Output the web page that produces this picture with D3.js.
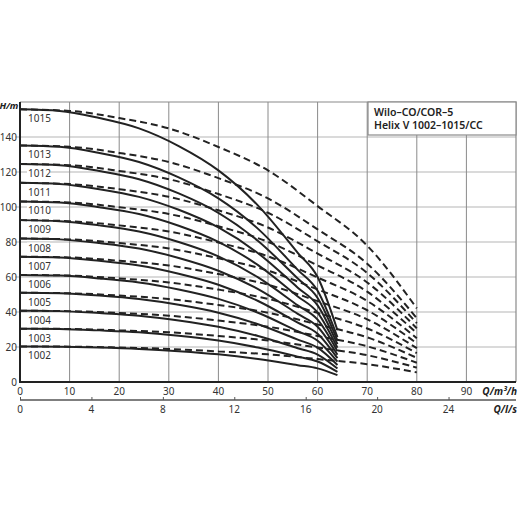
<!DOCTYPE html>
<html>
<head>
<meta charset="utf-8">
<script src="https://cdn.jsdelivr.net/npm/d3@7"></script>
<style>
  body { margin: 0; background: #fff; }
  svg { display: block; font-family: "Noto Sans", sans-serif; }
</style>
</head>
<body>
<div id="chart"></div>
<script>
// pump models and flows
var models = ["1002","1003","1004","1005","1006","1007","1008","1009","1010","1011","1012","1013","1015"];
var qSolid = [0, 8, 16, 24, 32, 40, 48, 56, 60, 64];
var qDash  = [0, 10, 20, 30, 40, 50, 60, 70, 80];

// head values (m), one row per model
var hSolid = [
  [20.3, 20.2, 19.7, 18.9, 17.6, 15.8, 13.1, 9.6, 7.8, 3.9],
  [30.5, 30.3, 29.5, 28.4, 26.4, 23.7, 19.7, 14.5, 11.7, 5.8],
  [40.7, 40.5, 39.4, 37.9, 35.2, 31.6, 26.3, 19.3, 15.7, 7.7],
  [51.0, 50.7, 49.4, 47.4, 44.1, 39.6, 33.0, 24.2, 19.6, 9.7],
  [61.2, 60.8, 59.2, 56.9, 52.9, 47.5, 39.6, 29.0, 23.6, 11.6],
  [71.6, 71.2, 69.3, 66.6, 61.9, 55.6, 46.3, 33.9, 27.6, 13.6],
  [82.0, 81.5, 79.4, 76.3, 70.9, 63.6, 53.1, 38.9, 31.6, 15.6],
  [92.5, 91.9, 89.5, 86.0, 80.0, 71.8, 59.8, 43.8, 35.6, 17.6],
  [103.2, 102.6, 99.9, 96.0, 89.3, 80.1, 66.8, 48.9, 39.7, 19.6],
  [113.8, 113.1, 110.2, 105.8, 98.4, 88.3, 73.6, 53.9, 43.8, 21.6],
  [124.6, 123.9, 120.6, 115.9, 107.8, 96.7, 80.6, 59.1, 48.0, 23.7],
  [135.2, 134.4, 130.9, 125.7, 116.9, 104.9, 87.5, 64.1, 52.1, 25.7],
  [155.8, 154.9, 150.8, 144.9, 134.8, 120.9, 100.8, 73.8, 60.0, 29.6]
];
var hDash = [
  [20.3, 20.2, 19.7, 18.9, 17.5, 15.8, 13.1, 10.2, 5.5],
  [30.5, 30.3, 29.5, 28.4, 26.3, 23.7, 19.7, 15.3, 8.2],
  [40.7, 40.5, 39.4, 37.9, 35.1, 31.6, 26.3, 20.4, 11.0],
  [51.0, 50.7, 49.4, 47.4, 44.0, 39.6, 32.9, 25.5, 13.8],
  [61.2, 60.8, 59.2, 56.9, 52.8, 47.5, 39.5, 30.6, 16.5],
  [71.6, 71.2, 69.3, 66.6, 61.7, 55.6, 46.2, 35.8, 19.3],
  [82.0, 81.5, 79.4, 76.3, 70.7, 63.6, 52.9, 41.0, 22.1],
  [92.5, 91.9, 89.5, 86.0, 79.7, 71.8, 59.7, 46.3, 25.0],
  [103.2, 102.6, 99.9, 96.0, 89.0, 80.1, 66.6, 51.6, 27.9],
  [113.8, 113.1, 110.2, 105.8, 98.1, 88.3, 73.4, 56.9, 30.7],
  [124.6, 123.9, 120.6, 115.9, 107.4, 96.7, 80.4, 62.3, 33.6],
  [135.2, 134.4, 130.9, 125.7, 116.5, 104.9, 87.2, 67.6, 36.5],
  [155.8, 154.9, 150.8, 144.9, 134.3, 120.9, 100.5, 77.9, 42.1]
];

var yTicks = [0, 20, 40, 60, 80, 100, 120, 140];
var xTicks = [0, 10, 20, 30, 40, 50, 60, 70, 80, 90];
var lsTicks = [0, 4, 8, 12, 16, 20, 24];
var legendLines = ["Wilo\u2013CO/COR\u20135", "Helix V 1002\u20131015/CC"];

var W = 518, H = 518;
var svg = d3.select("#chart")
  .append("svg")
  .attr("width", W)
  .attr("height", H);

var scaleX = d3.scaleLinear().domain([0, 100]).range([20, 516]);
var scaleY = d3.scaleLinear().domain([0, 160]).range([382, 102]);
// l/s axis: 1 l/s = 3.6 m3/h
var scaleLs = d3.scaleLinear().domain([0, 100 / 3.6]).range([20, 516]);

// grid
svg.append("g")
  .selectAll("line")
  .data(yTicks.slice(1))
  .enter()
  .append("line")
  .attr("x1", 15).attr("x2", scaleX(100))
  .attr("y1", function(d){ return scaleY(d); })
  .attr("y2", function(d){ return scaleY(d); })
  .style("stroke", "#b5b5b5")
  .style("stroke-width", 1.2);

svg.append("g")
  .selectAll("line")
  .data(xTicks.slice(1))
  .enter()
  .append("line")
  .attr("x1", function(d){ return scaleX(d); })
  .attr("x2", function(d){ return scaleX(d); })
  .attr("y1", scaleY(160)).attr("y2", scaleY(0))
  .style("stroke", "#8a8a8a")
  .style("stroke-width", 1);

// frame top / right
svg.append("path")
  .attr("d", "M" + scaleX(0) + "," + scaleY(160) + "H" + scaleX(100) + "V" + scaleY(0))
  .style("fill", "none")
  .style("stroke", "#8a8a8a")
  .style("stroke-width", 1.2);

// curves
var line = d3.line()
  .x(function(d){ return scaleX(d[0]); })
  .y(function(d){ return scaleY(d[1]); })
  .curve(d3.curveMonotoneX);

var dashData = hDash.map(function(row){ return row.map(function(h, i){ return [qDash[i], h]; }); });
var solidData = hSolid.map(function(row){ return row.map(function(h, i){ return [qSolid[i], h]; }); });

svg.append("g")
  .selectAll("path")
  .data(dashData)
  .enter()
  .append("path")
  .attr("d", line)
  .style("fill", "none")
  .style("stroke", "#222")
  .style("stroke-width", 2)
  .style("stroke-dasharray", "7,4");

svg.append("g")
  .selectAll("path")
  .data(solidData)
  .enter()
  .append("path")
  .attr("d", line)
  .style("fill", "none")
  .style("stroke", "#222")
  .style("stroke-width", 2);

// curve labels
var lab = svg.append("g")
  .selectAll("g")
  .data(models)
  .enter()
  .append("g")
  .attr("transform", function(d, i){ return "translate(28," + (scaleY(hSolid[i][0]) + 13) + ")"; });
lab.append("rect")
  .attr("x", -1).attr("y", -9).attr("width", 23).attr("height", 11)
  .style("fill", "#fff");
lab.append("text")
  .attr("font-size", "10px")
  .style("fill", "#333")
  .text(function(d){ return d; });

// axes
svg.append("line")
  .attr("x1", scaleX(0)).attr("x2", scaleX(0))
  .attr("y1", scaleY(160)).attr("y2", scaleY(0) + 1)
  .style("stroke", "#222").style("stroke-width", 2);
svg.append("line")
  .attr("x1", scaleX(0) - 1).attr("x2", scaleX(100))
  .attr("y1", scaleY(0)).attr("y2", scaleY(0))
  .style("stroke", "#222").style("stroke-width", 2);

svg.append("g")
  .selectAll("text")
  .data(yTicks)
  .enter()
  .append("text")
  .attr("x", 17)
  .attr("y", function(d){ return scaleY(d) + 3.5; })
  .attr("text-anchor", "end")
  .attr("font-size", "10px")
  .style("fill", "#333")
  .text(function(d){ return d; });

svg.append("text")
  .attr("x", 18).attr("y", 109)
  .attr("text-anchor", "end")
  .attr("font-size", "9.5px")
  .attr("font-weight", "bold")
  .attr("font-style", "italic")
  .attr("letter-spacing", "-0.3")
  .style("fill", "#222")
  .text("H/m");

svg.append("g")
  .selectAll("text")
  .data(xTicks)
  .enter()
  .append("text")
  .attr("x", function(d){ return scaleX(d); })
  .attr("y", 395)
  .attr("text-anchor", "middle")
  .attr("font-size", "10px")
  .style("fill", "#333")
  .text(function(d){ return d; });

svg.append("text")
  .attr("x", 517).attr("y", 395)
  .attr("text-anchor", "end")
  .attr("font-size", "10px")
  .attr("font-weight", "bold")
  .attr("font-style", "italic")
  .style("fill", "#222")
  .text("Q/m\u00b3/h");

// second axis in l/s
var axisLs = d3.axisTop(scaleLs)
  .tickValues(lsTicks)
  .tickSize(3)
  .tickFormat("");
var gLs = svg.append("g")
  .attr("transform", "translate(0,400)")
  .call(axisLs);
gLs.select(".domain").remove();
gLs.selectAll(".tick line").style("stroke", "#555");
svg.append("line")
  .attr("x1", scaleX(0)).attr("x2", scaleX(100))
  .attr("y1", 400).attr("y2", 400)
  .style("stroke", "#555").style("stroke-width", 1.3);

svg.append("g")
  .selectAll("text")
  .data(lsTicks)
  .enter()
  .append("text")
  .attr("x", function(d){ return scaleLs(d); })
  .attr("y", 413)
  .attr("text-anchor", "middle")
  .attr("font-size", "10px")
  .style("fill", "#333")
  .text(function(d){ return d; });

svg.append("text")
  .attr("x", 517).attr("y", 413)
  .attr("text-anchor", "end")
  .attr("font-size", "10px")
  .attr("font-weight", "bold")
  .attr("font-style", "italic")
  .style("fill", "#222")
  .text("Q/l/s");

// title box
svg.append("rect")
  .attr("x", 368).attr("y", scaleY(160))
  .attr("width", scaleX(100) - 368).attr("height", 33)
  .style("fill", "#fff")
  .style("stroke", "#8a8a8a")
  .style("stroke-width", 1.2);
svg.append("g")
  .selectAll("text")
  .data(legendLines)
  .enter()
  .append("text")
  .attr("x", 374)
  .attr("y", function(d, i){ return 116 + i * 13; })
  .attr("font-size", "10.5px")
  .attr("font-weight", 600)
  .style("fill", "#222")
  .text(function(d){ return d; });
</script>
</body>
</html>
